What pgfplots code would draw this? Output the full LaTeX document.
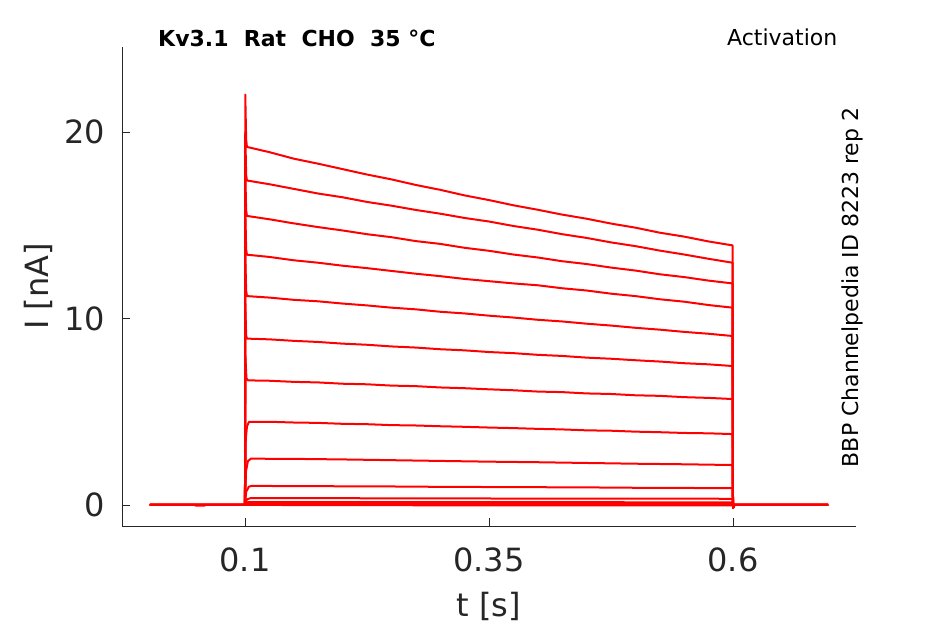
\documentclass[border=0pt]{standalone}
\usepackage{pgfplots}
\pgfplotsset{compat=1.18}
\usepackage{fontspec}
\setmainfont{DejaVu Sans}
\definecolor{axgray}{HTML}{262626}
\pgfplotsset{tr/.style={color=red, solid, no markers, line width=2bp, line join=round}}
\begin{document}
\begin{tikzpicture}
\useasboundingbox (0,0) rectangle (945bp,624bp);
\begin{axis}[
  at={(122bp,98bp)}, anchor=south west,
  scale only axis, width=734bp, height=479bp,
  xmin=-0.026, xmax=0.726, ymin=-1.13, ymax=24.56,
  axis x line*=bottom, axis y line*=left,
  axis line style={axgray, line width=0.8bp, -},
  tick align=inside, major tick length=8bp,
  tick style={axgray, line width=0.8bp},
  xtick={0.1,0.35,0.6}, ytick={0,10,20},
  /pgf/number format/assume math mode=true,
  tick label style={font=\fontsize{32bp}{36bp}\selectfont, text=axgray, inner sep=0pt},
  yticklabel style={anchor=east, xshift=-17bp},
  xticklabel style={anchor=north, yshift=-22bp},
  xlabel={t [s]}, ylabel={I [nA]},
  label style={font=\fontsize{32bp}{36bp}\selectfont, text=axgray, inner sep=0pt},
  xlabel style={at={(axis description cs:0.5,-0.1879)}, anchor=base},
  ylabel style={at={(axis description cs:-0.1008,0.5)}, anchor=base, rotate=0},
]
% trace 1
\addplot[tr] coordinates {(0.0025,0) (0.1,0) (0.1003,22.0) (0.1012,19.6) (0.102,19.2) (0.125,18.92) (0.15,18.57) (0.175,18.3) (0.2,18.01) (0.225,17.72) (0.25,17.46) (0.275,17.16) (0.3,16.9) (0.325,16.6) (0.35,16.35) (0.375,16.07) (0.4,15.83) (0.425,15.57) (0.45,15.35) (0.475,15.09) (0.5,14.87) (0.525,14.6) (0.55,14.39) (0.575,14.13) (0.5995,13.92) (0.6,-0.15) (0.6015,0) (0.6975,0)};
% trace 2
\addplot[tr] coordinates {(0.0025,0) (0.1,0) (0.1003,20.0) (0.1012,17.7) (0.102,17.4) (0.125,17.2) (0.15,16.95) (0.175,16.7) (0.2,16.5) (0.225,16.25) (0.25,16.05) (0.275,15.82) (0.3,15.62) (0.325,15.39) (0.35,15.2) (0.375,14.96) (0.4,14.76) (0.425,14.52) (0.45,14.32) (0.475,14.08) (0.5,13.88) (0.525,13.64) (0.55,13.43) (0.575,13.2) (0.5995,12.99) (0.6,-0.15) (0.6015,0) (0.6975,0)};
% trace 3
\addplot[tr] coordinates {(0.0025,0) (0.1,0) (0.1003,17.9) (0.1012,15.8) (0.102,15.5) (0.125,15.32) (0.15,15.1) (0.175,14.9) (0.2,14.72) (0.225,14.52) (0.25,14.36) (0.275,14.15) (0.3,14.0) (0.325,13.79) (0.35,13.63) (0.375,13.43) (0.4,13.27) (0.425,13.07) (0.45,12.92) (0.475,12.73) (0.5,12.57) (0.525,12.37) (0.55,12.22) (0.575,12.03) (0.5995,11.88) (0.6,-0.15) (0.6015,0) (0.6975,0)};
% trace 4
\addplot[tr] coordinates {(0.0025,0) (0.1,0) (0.1003,15.9) (0.1012,13.7) (0.102,13.42) (0.125,13.3) (0.15,13.12) (0.175,12.99) (0.2,12.83) (0.225,12.7) (0.25,12.55) (0.275,12.4) (0.3,12.27) (0.325,12.12) (0.35,12.0) (0.375,11.88) (0.4,11.78) (0.425,11.62) (0.45,11.5) (0.475,11.33) (0.5,11.2) (0.525,11.03) (0.55,10.9) (0.575,10.72) (0.5995,10.58) (0.6,-0.15) (0.6015,0) (0.6975,0)};
% trace 5
\addplot[tr] coordinates {(0.0025,0) (0.1,0) (0.1003,13.4) (0.1012,11.5) (0.102,11.2) (0.125,11.12) (0.15,11.0) (0.175,10.92) (0.2,10.8) (0.225,10.7) (0.25,10.58) (0.275,10.49) (0.3,10.36) (0.325,10.27) (0.35,10.15) (0.375,10.05) (0.4,9.93) (0.425,9.84) (0.45,9.72) (0.475,9.62) (0.5,9.5) (0.525,9.4) (0.55,9.28) (0.575,9.18) (0.5995,9.06) (0.6,-0.15) (0.6015,0) (0.6975,0)};
% trace 6
\addplot[tr] coordinates {(0.0025,0) (0.1,0) (0.1003,10.8) (0.1012,9.1) (0.102,8.92) (0.125,8.88) (0.15,8.8) (0.175,8.74) (0.2,8.65) (0.225,8.59) (0.25,8.5) (0.275,8.44) (0.3,8.35) (0.325,8.29) (0.35,8.2) (0.375,8.14) (0.4,8.05) (0.425,7.99) (0.45,7.9) (0.475,7.84) (0.5,7.76) (0.525,7.69) (0.55,7.6) (0.575,7.54) (0.5995,7.45) (0.6,-0.15) (0.6015,0) (0.6975,0)};
% trace 7
\addplot[tr] coordinates {(0.0025,0) (0.1,0) (0.1004,8.0) (0.1015,6.8) (0.103,6.68) (0.125,6.66) (0.15,6.6) (0.175,6.57) (0.2,6.5) (0.225,6.47) (0.25,6.4) (0.275,6.37) (0.3,6.3) (0.325,6.26) (0.35,6.2) (0.375,6.15) (0.4,6.08) (0.425,6.05) (0.45,5.98) (0.475,5.95) (0.5,5.88) (0.525,5.85) (0.55,5.78) (0.575,5.74) (0.5995,5.68) (0.6,-0.15) (0.6015,0) (0.6975,0)};
% trace 8
\addplot[tr] coordinates {(0.0025,0) (0.1,0) (0.1008,3.5) (0.102,4.2) (0.104,4.45) (0.125,4.46) (0.15,4.42) (0.175,4.4) (0.2,4.35) (0.225,4.33) (0.25,4.28) (0.275,4.26) (0.3,4.22) (0.325,4.19) (0.35,4.15) (0.375,4.12) (0.4,4.08) (0.425,4.05) (0.45,4.0) (0.475,3.98) (0.5,3.93) (0.525,3.9) (0.55,3.86) (0.575,3.84) (0.5995,3.8) (0.6,-0.15) (0.6015,0) (0.6975,0)};
% trace 9
\addplot[tr] coordinates {(0.0025,0) (0.1,0) (0.101,1.8) (0.103,2.35) (0.106,2.48) (0.15,2.47) (0.2,2.44) (0.25,2.4) (0.3,2.36) (0.35,2.32) (0.4,2.29) (0.45,2.25) (0.5,2.21) (0.55,2.18) (0.5995,2.14) (0.6,-0.15) (0.6015,0) (0.6975,0)};
% trace 10
\addplot[tr] coordinates {(0.0025,0) (0.1,0) (0.1012,0.7) (0.104,0.98) (0.107,1.02) (0.15,1.01) (0.2,1.0) (0.25,0.99) (0.3,0.97) (0.35,0.96) (0.4,0.95) (0.45,0.94) (0.5,0.92) (0.55,0.91) (0.5995,0.9) (0.6,-0.15) (0.6015,0) (0.6975,0)};
% trace 11
\addplot[tr] coordinates {(0.0025,0) (0.1,0) (0.102,0.3) (0.106,0.37) (0.2,0.36) (0.3,0.35) (0.4,0.34) (0.5,0.34) (0.5995,0.33) (0.6,-0.1) (0.6015,0) (0.6975,0)};
% trace 12
\addplot[tr] coordinates {(0.0025,0) (0.1,0) (0.103,0.15) (0.3,0.15) (0.5995,0.14) (0.6,-0.05) (0.6015,0) (0.6975,0)};
% trace 13
\addplot[tr] coordinates {(0.0025,0) (0.1,0) (0.103,0.05) (0.5995,0.05) (0.6015,0) (0.6975,0)};
% trace 14
\addplot[tr] coordinates {(0.0025,0) (0.048,0) (0.05,-0.04) (0.058,-0.04) (0.06,0) (0.1,0) (0.3,-0.02) (0.5995,-0.02) (0.6015,0) (0.6975,0)};
\end{axis}
\node[anchor=base west, inner sep=0pt, font=\fontsize{22bp}{26bp}\selectfont\bfseries] at (158bp,577bp) {Kv3.1\ \ Rat\ \ CHO\ \ 35 °C};
\node[anchor=base west, inner sep=0pt, font=\fontsize{22bp}{26bp}\selectfont] at (727bp,578bp) {Activation};
\node[anchor=base, rotate=90, inner sep=0pt, font=\fontsize{22bp}{26bp}\selectfont] at (858bp,336.5bp) {BBP Channelpedia ID 8223 rep 2};
\end{tikzpicture}
\end{document}
